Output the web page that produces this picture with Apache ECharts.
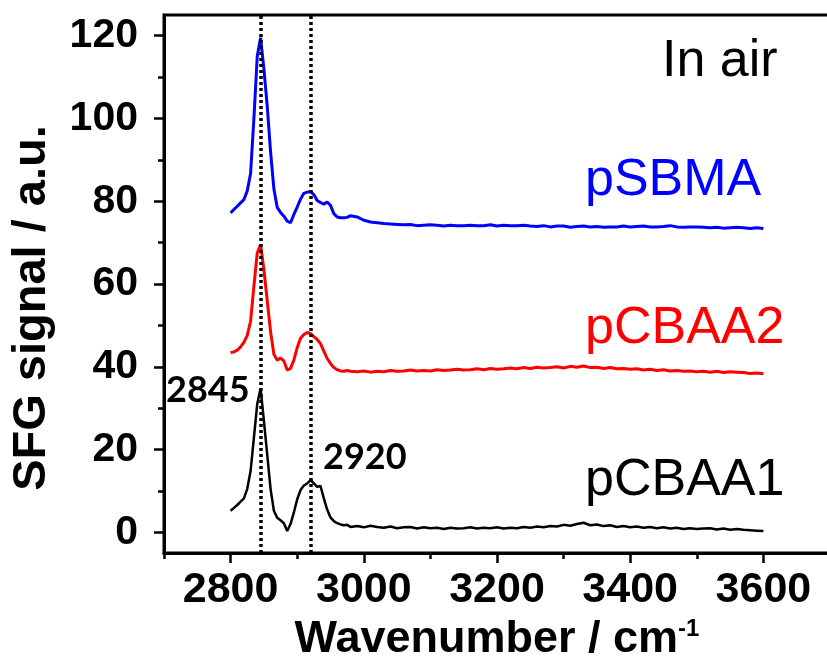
<!DOCTYPE html>
<html>
<head>
<meta charset="utf-8">
<script src="https://cdn.jsdelivr.net/npm/echarts@6/dist/echarts.min.js"></script>
<style>
  html, body { margin: 0; padding: 0; background: #fff; }
  #chart { width: 827px; height: 658px; }
</style>
</head>
<body>
<div id="chart"></div>
<script>
// wavenumber grid (cm-1): 5 steps over the peaks, 10 steps over the flat part
const wavenumbers = [
  2800, 2805, 2810, 2815, 2820, 2825, 2830, 2835, 2840, 2845,
  2850, 2855, 2860, 2865, 2870, 2875, 2880, 2885, 2890, 2895,
  2900, 2905, 2910, 2915, 2920, 2925, 2930, 2935, 2940, 2945,
  2950, 2955, 2960, 2965, 2970, 2975, 2980,
  2990, 3000, 3010, 3020, 3030, 3040, 3050, 3060, 3070, 3080,
  3090, 3100, 3110, 3120, 3130, 3140, 3150, 3160, 3170, 3180,
  3190, 3200, 3210, 3220, 3230, 3240, 3250, 3260, 3270, 3280,
  3290, 3300, 3310, 3320, 3330, 3340, 3350, 3360, 3370, 3380,
  3390, 3400, 3410, 3420, 3430, 3440, 3450, 3460, 3470, 3480,
  3490, 3500, 3510, 3520, 3530, 3540, 3550, 3560, 3570, 3580,
  3590, 3600
];

const pSBMA = [
  77.2, 78.0, 78.8, 79.6, 80.4, 82.5, 86.7, 100, 115, 119.5,
  112, 103, 92, 83, 78.5, 77.3, 76.4, 75.2, 74.8, 76.8,
  78.6, 80.5, 81.9, 82.2, 82.3, 81.6, 80.2, 79.7, 79.3, 79.8,
  79.0, 77.0, 76.2, 76.0, 76.0, 76.1, 76.5,
  76.2, 75.4, 75.0, 74.8, 74.6, 74.5, 74.4, 74.3, 74.4, 74.1,
  74.2, 74.3, 74.2, 74.0, 74.2, 74.1, 74.1, 74.2, 74.1, 74.1,
  74.3, 74.0, 74.2, 74.1, 74.1, 74.2, 74.0, 73.9, 74.1, 73.8,
  74.0, 74.0, 73.7, 73.9, 74.0, 73.8, 73.9, 73.7, 73.8, 73.8,
  74.0, 73.8, 73.9, 74.0, 73.8, 73.8, 73.9, 74.1, 73.8, 73.7,
  73.8, 73.8, 73.7, 73.6, 73.7, 73.5, 73.6, 73.7, 73.6, 73.4,
  73.6, 73.4
];

const pCBAA2 = [
  43.4, 43.6, 44.0, 44.8, 45.9, 47.6, 51.0, 59.5, 67.5, 69.5,
  63.5, 56.0, 48.5, 43.0, 41.6, 42.1, 41.4, 39.2, 39.6, 41.6,
  44.6, 46.9, 47.8, 48.3, 48.0, 47.3, 46.6, 45.6, 43.8, 42.0,
  40.8, 39.8, 39.3, 39.0, 38.9, 39.1, 38.9,
  38.8, 39.0, 38.7, 38.9, 38.8, 39.1, 38.9, 39.0, 39.2, 39.0,
  39.1, 39.0, 39.3, 39.1, 39.2, 39.4, 39.2, 39.3, 39.5, 39.3,
  39.6, 39.4, 39.5, 39.7, 39.5, 39.8, 39.6, 39.9, 39.7, 39.8,
  40.0, 39.7, 40.1, 39.9, 40.2, 39.8, 39.9, 39.6, 39.8, 39.5,
  39.6, 39.4, 39.5, 39.2, 39.4, 39.1, 39.3, 39.0, 39.1, 38.9,
  39.0, 38.8, 38.9, 38.7, 38.9, 38.6, 38.8, 38.7, 38.6, 38.4,
  38.5, 38.3
];

const pCBAA1 = [
  5.2, 5.9, 6.6, 7.4, 8.2, 10.5, 14.8, 22.9, 31.0, 34.8,
  27.0, 18.8, 10.5, 5.2, 3.5, 2.9, 2.2, 0.3, 2.0, 4.8,
  8.0, 10.2, 11.3, 11.8, 12.6, 11.8, 11.0, 11.2, 8.2, 5.5,
  3.6, 2.7, 2.2, 1.9, 1.7, 1.8, 1.3,
  1.5, 1.2, 1.6, 1.3, 1.1, 1.4, 1.0, 1.2, 1.3, 0.9,
  1.2, 1.0, 1.1, 0.8, 1.1, 0.9, 1.0, 1.2, 0.9, 1.1,
  1.0, 1.2, 0.9, 1.1, 1.0, 1.3, 1.1, 1.4, 1.2, 1.5,
  1.4, 1.8, 1.6, 2.0, 2.3, 1.7, 1.9, 1.5, 1.7, 1.3,
  1.5, 1.2, 1.4, 1.1, 1.3, 1.0, 1.2, 0.9, 1.1, 0.8,
  1.0, 0.8, 0.9, 1.0, 0.7, 0.9, 0.6, 0.8, 0.6, 0.5,
  0.4, 0.3
];

// peak positions marked by dotted lines
const peakLines = [2845, 2920];

// tick positions
const xMajorTicks = [2800, 3000, 3200, 3400, 3600];
const xMinorTicks = [2700, 2900, 3100, 3300, 3500, 3700];
const yMajorTicks = [0, 20, 40, 60, 80, 100, 120];
const yMinorTicks = [10, 30, 50, 70, 90, 110];

const zip = (ys) => wavenumbers.map((x, i) => [x, ys[i]]);

const chart = echarts.init(document.getElementById('chart'), null, { renderer: 'canvas' });

const AXIS_FONT = 'Liberation Sans, Arial, sans-serif';
const NOTE_FONT = '52px "Liberation Sans", Arial';

const option = {
  animation: false,
  backgroundColor: '#fff',
  grid: {
    left: 164, right: -3, top: 15, bottom: 105,
    outerBoundsMode: 'none',
    show: true, borderColor: '#000', borderWidth: 3,
  },
  xAxis: [
    {
      type: 'value', min: 2700, max: 3700,
      axisLine: { onZero: false, lineStyle: { color: '#000', width: 3 } },
      axisTick: { inside: false, length: 10, lineStyle: { width: 2.5, color: '#000' }, customValues: xMajorTicks },
      axisLabel: {
        customValues: xMajorTicks, margin: 16, formatter: (v) => String(v),
        color: '#000', fontFamily: AXIS_FONT, fontWeight: 'bold', fontSize: 43,
      },
      splitLine: { show: false },
      name: 'Wavenumber / cm{sup|-1}',
      nameLocation: 'middle', nameGap: 60,
      nameTextStyle: {
        color: '#000', fontFamily: AXIS_FONT, fontWeight: 'bold', fontSize: 45,
        rich: { sup: { fontSize: 24, fontWeight: 'bold', fontFamily: AXIS_FONT, verticalAlign: 'top', color: '#000' } },
      },
    },
    {
      type: 'value', min: 2700, max: 3700, position: 'bottom',
      axisLine: { show: false, onZero: false },
      axisTick: { inside: false, length: 6, lineStyle: { width: 2.5, color: '#000' }, customValues: xMinorTicks },
      axisLabel: { show: false },
      splitLine: { show: false },
    },
  ],
  yAxis: [
    {
      type: 'value', min: -5, max: 125,
      axisLine: { show: true, onZero: false, lineStyle: { color: '#000', width: 3 } },
      axisTick: { show: true, inside: false, length: 10, lineStyle: { width: 2.5, color: '#000' }, customValues: yMajorTicks },
      axisLabel: {
        customValues: yMajorTicks, margin: 26,
        color: '#000', fontFamily: AXIS_FONT, fontWeight: 'bold', fontSize: 41,
      },
      splitLine: { show: false },
      name: 'SFG signal / a.u.',
      nameLocation: 'middle', nameGap: 108,
      nameTextStyle: {
        color: '#000', fontFamily: AXIS_FONT, fontWeight: 'bold', fontSize: 47,
        padding: [0, 48, 0, 0],
      },
    },
    {
      type: 'value', min: -5, max: 125, position: 'left',
      axisLine: { show: false, onZero: false },
      axisTick: { show: true, inside: false, length: 6, lineStyle: { width: 2.5, color: '#000' }, customValues: yMinorTicks },
      axisLabel: { show: false },
      splitLine: { show: false },
    },
  ],
  series: [
    {
      name: 'pCBAA1', type: 'line', data: zip(pCBAA1), showSymbol: false,
      lineStyle: { color: '#000', width: 2.5 }, itemStyle: { color: '#000' },
    },
    {
      name: 'pCBAA2', type: 'line', data: zip(pCBAA2), showSymbol: false,
      lineStyle: { color: '#ff0000', width: 3 }, itemStyle: { color: '#ff0000' },
    },
    {
      name: 'pSBMA', type: 'line', data: zip(pSBMA), showSymbol: false,
      lineStyle: { color: '#0000ff', width: 3 }, itemStyle: { color: '#0000ff' },
    },
    {
      // dotted markers at the two peak positions, drawn above the curves
      name: 'peaks', type: 'line', data: [], z: 10,
      markLine: {
        silent: true, symbol: ['none', 'none'],
        label: { show: false },
        lineStyle: { color: '#000', width: 3.5, type: [3, 3] },
        data: peakLines.map((x) => ({ xAxis: x })),
      },
    },
  ],
  graphic: [
    { type: 'text', left: 662, top: 36, style: { text: 'In air', fill: '#000', font: NOTE_FONT } },
    { type: 'text', left: 585, top: 155, style: { text: 'pSBMA', fill: '#0000ff', font: NOTE_FONT } },
    { type: 'text', left: 585, top: 303, style: { text: 'pCBAA2', fill: '#ff0000', font: NOTE_FONT } },
    { type: 'text', left: 585, top: 455, style: { text: 'pCBAA1', fill: '#000', font: NOTE_FONT } },
    { type: 'text', left: 166, top: 372, style: { text: '2845', fill: '#000', font: 'bold 36px Lato, "Open Sans", sans-serif' } },
    { type: 'text', left: 323, top: 439, style: { text: '2920', fill: '#000', font: 'bold 36px Lato, "Open Sans", sans-serif' } },
  ],
};

chart.setOption(option);
window.addEventListener('resize', () => chart.resize());
</script>
</body>
</html>
